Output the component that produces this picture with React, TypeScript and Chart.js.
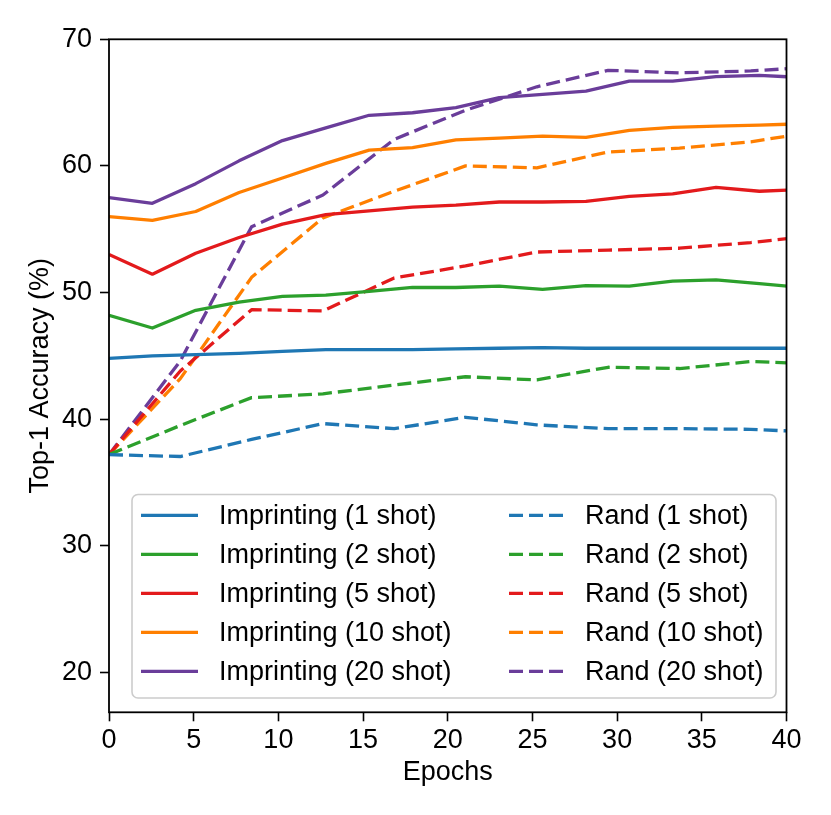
import React, { useEffect, useRef } from "react";
import { Chart, registerables } from "chart.js";

Chart.register(...registerables);

const FONT = '"Liberation Sans", Arial, Helvetica, sans-serif';
const FONT_SIZE = 27;

// Epoch positions of the evaluations
const IMPRINT_EPOCHS = [0, 2.56, 5.12, 7.68, 10.24, 12.8, 15.36, 17.92, 20.48, 23.04, 25.6, 28.16, 30.72, 33.28, 35.84, 38.4, 40.96];
const RAND_EPOCHS = [0, 4.21, 8.42, 12.63, 16.84, 21.05, 25.26, 29.47, 33.68, 37.89, 42.11];

// Imprinting series (Top-1 accuracy %)
const IMPRINT_1 = [44.8, 45.0, 45.1, 45.2, 45.35, 45.5, 45.5, 45.5, 45.55, 45.6, 45.65, 45.6, 45.6, 45.6, 45.6, 45.6, 45.6];
const IMPRINT_2 = [48.2, 47.2, 48.6, 49.25, 49.7, 49.8, 50.1, 50.4, 50.4, 50.5, 50.25, 50.55, 50.5, 50.9, 51.0, 50.7, 50.4];
const IMPRINT_5 = [53.0, 51.45, 53.1, 54.35, 55.4, 56.15, 56.45, 56.75, 56.9, 57.15, 57.15, 57.2, 57.6, 57.8, 58.3, 58.0, 58.15];
const IMPRINT_10 = [56.0, 55.7, 56.4, 57.9, 59.05, 60.2, 61.25, 61.45, 62.05, 62.2, 62.35, 62.25, 62.8, 63.05, 63.15, 63.22, 63.33];
const IMPRINT_20 = [57.5, 57.05, 58.6, 60.4, 62.0, 63.0, 64.0, 64.2, 64.6, 65.4, 65.65, 65.9, 66.7, 66.7, 67.05, 67.15, 66.98];

// Random-init series (Top-1 accuracy %)
const RAND_1 = [37.2, 37.05, 38.4, 39.65, 39.25, 40.15, 39.55, 39.25, 39.25, 39.2, 38.95];
const RAND_2 = [37.2, 39.5, 41.7, 42.0, 42.7, 43.35, 43.1, 44.1, 44.0, 44.55, 44.35];
const RAND_5 = [37.2, 43.8, 48.65, 48.55, 51.15, 52.1, 53.2, 53.35, 53.5, 53.95, 54.55];
const RAND_10 = [37.2, 43.2, 51.2, 55.9, 58.0, 60.0, 59.85, 61.1, 61.4, 61.9, 62.8];
const RAND_20 = [37.2, 44.6, 55.2, 57.7, 62.1, 64.4, 66.25, 67.55, 67.35, 67.5, 67.85];

const IMPRINT_LABELS = ["Imprinting (1 shot)", "Imprinting (2 shot)", "Imprinting (5 shot)", "Imprinting (10 shot)", "Imprinting (20 shot)"];
const RAND_LABELS = ["Rand (1 shot)", "Rand (2 shot)", "Rand (5 shot)", "Rand (10 shot)", "Rand (20 shot)"];
const COLORS = ["#1f77b4", "#2ca02c", "#e31a1c", "#ff7f00", "#6a3d9a"];

const X_TICKS = [0, 5, 10, 15, 20, 25, 30, 35, 40];
const Y_TICKS = [20, 30, 40, 50, 60, 70];
const X_MIN = 0;
const X_MAX = 40;
const Y_MIN = 16.85;
const Y_MAX = 70;

const LINE_W = 3.3;
const DASH = [14, 6];

const frameAndLegend = {
  id: "frameAndLegend",
  afterDraw(chart: any) {
    const c = chart.ctx as CanvasRenderingContext2D;
    const { left, top, right, bottom } = chart.chartArea;
    c.save();
    c.setLineDash([]);
    c.strokeStyle = "#000";
    c.lineWidth = 1.8;
    c.strokeRect(left, top, right - left, bottom - top);

    // legend frame
    const bx = 132, by = 494.5, bw = 644, bh = 203.5;
    c.beginPath();
    if ((c as any).roundRect) (c as any).roundRect(bx, by, bw, bh, 6);
    else c.rect(bx, by, bw, bh);
    c.fillStyle = "rgba(255,255,255,0.8)";
    c.fill();
    c.strokeStyle = "#cccccc";
    c.lineWidth = 1.6;
    c.stroke();

    c.font = `${FONT_SIZE}px ${FONT}`;
    c.textBaseline = "middle";
    c.textAlign = "left";
    chart.data.datasets.forEach((ds: any, i: number) => {
      const col = Math.floor(i / 5);
      const row = i % 5;
      const y = 515.3 + row * 39;
      const lx = col === 0 ? 141 : 509;
      const tx = col === 0 ? 219 : 585;
      c.beginPath();
      c.setLineDash(ds.borderDash || []);
      c.strokeStyle = ds.borderColor;
      c.lineWidth = LINE_W;
      c.lineCap = "butt";
      c.moveTo(lx, y);
      c.lineTo(lx + 57, y);
      c.stroke();
      c.setLineDash([]);
      c.fillStyle = "#000";
      c.fillText(ds.label, tx, y + 1);
    });
    c.restore();
  },
};

export default function App() {
  const ref = useRef<HTMLCanvasElement>(null);

  useEffect(() => {
    document.body.style.margin = "0";
    const canvas = ref.current!;
    const pts = (xs: number[], ys: number[]) => ys.map((y, i) => ({ x: xs[i], y }));
    const imprint = [IMPRINT_1, IMPRINT_2, IMPRINT_5, IMPRINT_10, IMPRINT_20];
    const rand = [RAND_1, RAND_2, RAND_5, RAND_10, RAND_20];

    const datasets: any[] = [];
    imprint.forEach((ys, i) =>
      datasets.push({
        label: IMPRINT_LABELS[i],
        data: pts(IMPRINT_EPOCHS, ys),
        borderColor: COLORS[i],
        backgroundColor: COLORS[i],
        borderWidth: LINE_W,
        pointRadius: 0,
        tension: 0,
        fill: false,
        borderJoinStyle: "round",
        clip: 0,
      })
    );
    rand.forEach((ys, i) =>
      datasets.push({
        label: RAND_LABELS[i],
        data: pts(RAND_EPOCHS, ys),
        borderColor: COLORS[i],
        backgroundColor: COLORS[i],
        borderWidth: LINE_W,
        borderDash: DASH,
        borderCapStyle: "butt",
        pointRadius: 0,
        tension: 0,
        fill: false,
        borderJoinStyle: "round",
        clip: 0,
      })
    );

    const chart = new Chart(canvas, {
      type: "line",
      data: { datasets },
      plugins: [frameAndLegend],
      options: {
        animation: false,
        responsive: false,
        devicePixelRatio: 1,
        layout: { padding: { top: 39.3, right: 44.5, left: 0, bottom: 0 } },
        plugins: { legend: { display: false }, tooltip: { enabled: false } },
        scales: {
          x: {
            type: "linear",
            min: X_MIN,
            max: X_MAX,
            afterBuildTicks: (s: any) => {
              s.ticks = X_TICKS.map((v) => ({ value: v }));
            },
            afterFit: (s: any) => {
              s.height = 102.7;
            },
            grid: { display: true, drawOnChartArea: false, drawTicks: true, tickLength: 9, tickColor: "#000", tickWidth: 1.6 },
            border: { display: false },
            ticks: { color: "#000", font: { family: FONT, size: FONT_SIZE }, padding: 3, maxRotation: 0, autoSkip: false },
            title: { display: true, text: "Epochs", color: "#000", font: { family: FONT, size: FONT_SIZE }, padding: { top: 0, bottom: 26.5 } },
          },
          y: {
            type: "linear",
            min: Y_MIN,
            max: Y_MAX,
            afterBuildTicks: (s: any) => {
              s.ticks = Y_TICKS.map((v) => ({ value: v }));
            },
            afterFit: (s: any) => {
              s.width = 109;
            },
            grid: { display: true, drawOnChartArea: false, drawTicks: true, tickLength: 9, tickColor: "#000", tickWidth: 1.6 },
            border: { display: false },
            ticks: { color: "#000", font: { family: FONT, size: FONT_SIZE }, padding: 8, autoSkip: false },
            title: { display: true, text: "Top-1 Accuracy (%)", color: "#000", font: { family: FONT, size: FONT_SIZE }, padding: { top: 24.5, bottom: 0 } },
          },
        },
      } as any,
    });
    return () => chart.destroy();
  }, []);

  return (
    <div style={{ width: 831, height: 815 }}>
      <canvas ref={ref} width={831} height={815} style={{ display: "block" }} />
    </div>
  );
}
